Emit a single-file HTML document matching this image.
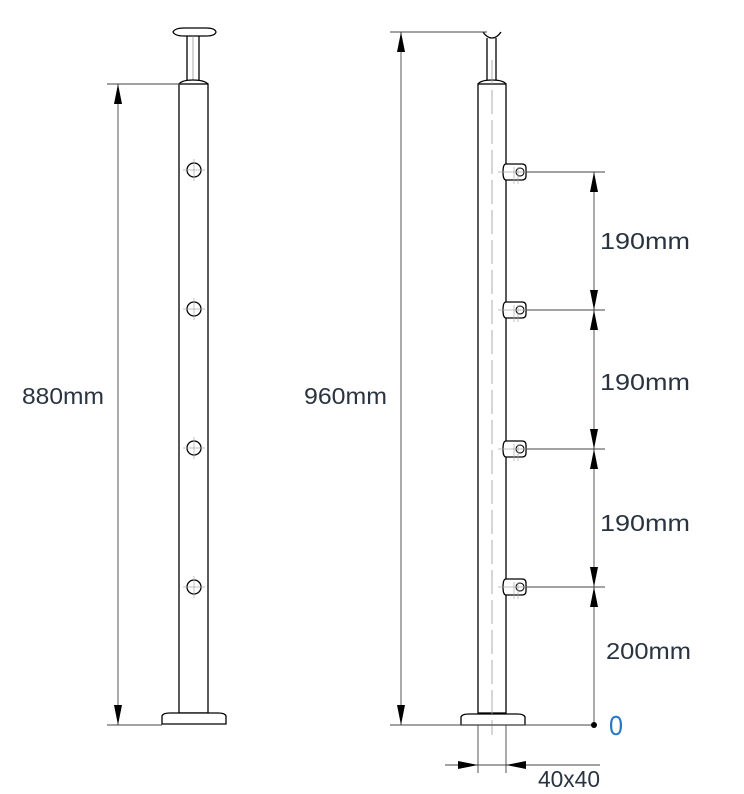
<!DOCTYPE html>
<html><head><meta charset="utf-8"><style>
html,body{margin:0;padding:0;background:#fff;}
svg{display:block;}
text{font-family:"Liberation Sans",sans-serif;font-size:23px;fill:#2a3440;}
</style></head><body>
<svg width="744" height="794" viewBox="0 0 744 794" xmlns="http://www.w3.org/2000/svg">
<defs>
<g id="hole"><circle r="7" fill="none" stroke="#000" stroke-width="1.3"/><line x1="-11" y1="0" x2="11" y2="0" stroke="#aaa" stroke-width="0.7"/><line x1="0" y1="-11" x2="0" y2="11" stroke="#aaa" stroke-width="0.7"/></g>
<g id="brk"><path d="M0,-8 L16,-8 Q20,-8 20,-4 L20,4 Q20,8 16,8 L0,8 Q-3,8 -3,0 Q-3,-8 0,-8Z" fill="#fff" stroke="#000" stroke-width="1.3"/><circle cx="14" cy="0" r="4" fill="none" stroke="#000" stroke-width="1.1"/><line x1="-8" y1="0" x2="24" y2="0" stroke="#aaa" stroke-width="0.7"/><line x1="8" y1="-5" x2="8" y2="12" stroke="#aaa" stroke-width="0.7"/><line x1="12" y1="-5" x2="12" y2="12" stroke="#aaa" stroke-width="0.7"/></g>
<path id="au" d="M0,0 L-4,20 L4,20Z" fill="#000"/>
<path id="ad" d="M0,0 L-4,-20 L4,-20Z" fill="#000"/>
</defs>
<g stroke="#000" stroke-width="1.3" fill="none">
<path d="M173,32 Q175,28 184,28 L206,28 Q215,28 216,32 Q215,36 206,36 L184,36 Q175,36 173,32Z"/>
<line x1="187" y1="36" x2="187" y2="80"/><line x1="199" y1="36" x2="199" y2="80"/>
<line x1="193" y1="36" x2="193" y2="80" stroke="#888" stroke-width="0.7"/>
<path d="M179,84 Q182,80 193,80 Q204,80 208,84"/>
<rect x="179" y="84" width="29" height="629"/>
<path d="M162,724 L162,716 Q163,713 170,713 L218,713 Q225,713 226,716 L226,724Z" fill="#fff"/>
<path d="M483,32 Q487,38 492,38 Q497,38 501,32"/>
<line x1="487" y1="38" x2="487" y2="80"/><line x1="496" y1="38" x2="496" y2="80"/>
<path d="M478,84 Q481,80 492,80 Q503,80 506,84"/>
<rect x="478" y="84" width="28" height="629"/>
<path d="M461,725 L461,717 Q462,714 469,714 L517,714 Q524,714 525,717 L525,725Z" fill="#fff"/>
</g>
<line x1="492" y1="60" x2="492" y2="735" stroke="#999" stroke-width="0.8" stroke-dasharray="24,6"/>
<use href="#hole" x="194" y="170"/><use href="#hole" x="194" y="309"/><use href="#hole" x="194" y="448"/><use href="#hole" x="194" y="587"/>
<use href="#brk" x="506" y="172"/><use href="#brk" x="506" y="310"/><use href="#brk" x="506" y="449"/><use href="#brk" x="506" y="587"/>
<g stroke="#444" stroke-width="0.9">
<line x1="107" y1="84" x2="180" y2="84"/><line x1="107" y1="725" x2="162" y2="725"/>
<line x1="118" y1="84" x2="118" y2="725"/>
<line x1="390" y1="32" x2="487" y2="32"/><line x1="390" y1="725" x2="594" y2="725"/>
<line x1="401" y1="32" x2="401" y2="725"/>
<line x1="526" y1="172" x2="605" y2="172"/><line x1="526" y1="310" x2="605" y2="310"/>
<line x1="526" y1="449" x2="605" y2="449"/><line x1="526" y1="587" x2="605" y2="587"/>
<line x1="594" y1="172" x2="594" y2="725"/>
<line x1="478" y1="725" x2="478" y2="773"/><line x1="506" y1="725" x2="506" y2="773"/>
<line x1="445" y1="765" x2="600" y2="765"/>
</g>
<use href="#au" x="118" y="84"/><use href="#ad" x="118" y="725"/>
<use href="#au" x="401" y="32"/><use href="#ad" x="401" y="725"/>
<use href="#au" x="594" y="172"/><use href="#ad" x="594" y="310"/>
<use href="#au" x="594" y="310"/><use href="#ad" x="594" y="449"/>
<use href="#au" x="594" y="449"/><use href="#ad" x="594" y="587"/>
<use href="#au" x="594" y="587"/>
<circle cx="594" cy="725" r="3" fill="#000"/>
<path d="M478,765 L458,761 L458,769Z" fill="#000"/>
<path d="M506,765 L526,761 L526,769Z" fill="#000"/>
<text x="22" y="404" textLength="82" lengthAdjust="spacingAndGlyphs">880mm</text>
<text x="304" y="404" textLength="83" lengthAdjust="spacingAndGlyphs">960mm</text>
<text x="600" y="249" textLength="90" lengthAdjust="spacingAndGlyphs">190mm</text>
<text x="600" y="390" textLength="90" lengthAdjust="spacingAndGlyphs">190mm</text>
<text x="600" y="531" textLength="90" lengthAdjust="spacingAndGlyphs">190mm</text>
<text x="606" y="659" textLength="85" lengthAdjust="spacingAndGlyphs">200mm</text>
<text x="609" y="735" style="fill:#2a78c8;font-size:28px" textLength="14" lengthAdjust="spacingAndGlyphs">0</text>
<text x="538" y="787" textLength="62" lengthAdjust="spacingAndGlyphs">40x40</text>
</svg>
</body></html>
